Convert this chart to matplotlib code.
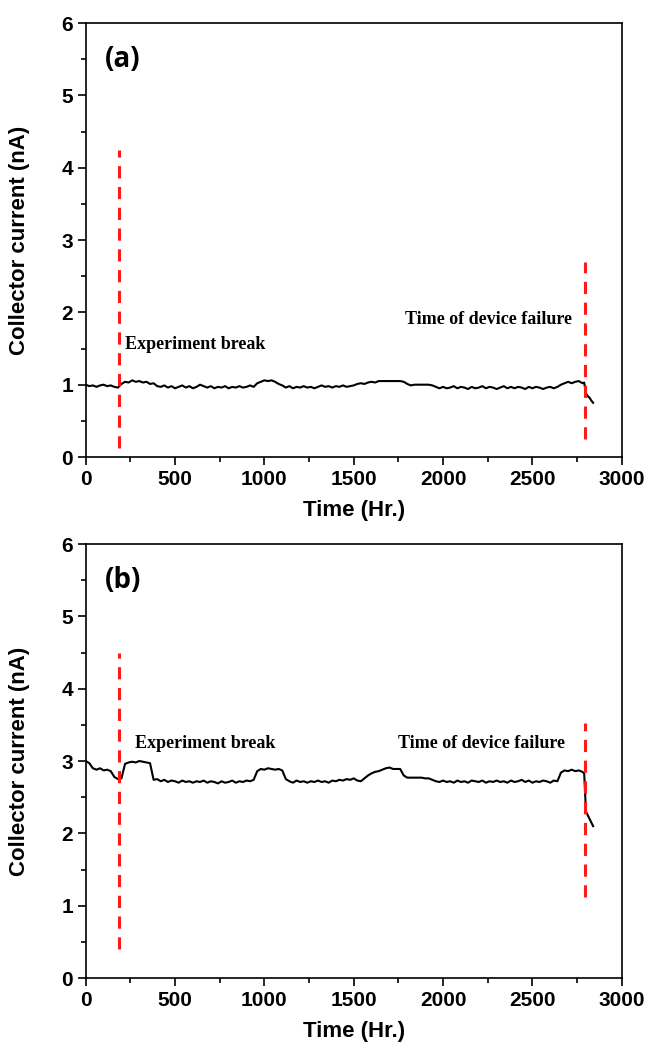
import matplotlib
matplotlib.use("Agg")
import matplotlib.pyplot as plt
from matplotlib.ticker import MultipleLocator

# sample times (hours), one reading every 20 hr plus the tail after failure
time_main = [t for t in range(0, 2800, 20)]
time_tail = [2790, 2800, 2810, 2820, 2830, 2840]

# panel (a) collector current (nA)
current_a = [
    1.00, 0.98, 0.99, 0.97, 0.99, 1.00, 0.98, 0.99, 0.97, 0.96,
    1.01, 1.04, 1.03, 1.06, 1.04, 1.05, 1.03, 1.04, 1.01, 1.02,
    0.98, 0.97, 0.99, 0.96, 0.98, 0.95, 0.97, 0.99, 0.96, 0.98,
    0.95, 0.97, 1.00, 0.98, 0.96, 0.98, 0.95, 0.97, 0.96, 0.98,
    0.95, 0.97, 0.96, 0.98, 0.96, 0.97, 0.99, 0.97, 1.02, 1.04,
    1.06, 1.05, 1.06, 1.04, 1.01, 0.99, 0.96, 0.98, 0.95, 0.97,
    0.96, 0.98, 0.96, 0.97, 0.95, 0.97, 0.99, 0.97, 0.98, 0.96,
    0.98, 0.97, 0.99, 0.97, 0.98, 0.99, 1.01, 1.02, 1.01, 1.03,
    1.04, 1.03, 1.05, 1.05, 1.05, 1.05, 1.05, 1.05, 1.05, 1.04,
    1.01, 0.99, 1.00, 1.00, 1.00, 1.00, 1.00, 0.99, 0.97, 0.95,
    0.97, 0.95, 0.96, 0.98, 0.95, 0.97, 0.96, 0.94, 0.97, 0.95,
    0.96, 0.98, 0.95, 0.97, 0.96, 0.94, 0.96, 0.98, 0.95, 0.97,
    0.95, 0.97, 0.96, 0.94, 0.97, 0.95, 0.97, 0.96, 0.94, 0.96,
    0.97, 0.95, 0.97, 1.00, 1.02, 1.04, 1.02, 1.04, 1.05, 1.02,
]
tail_a = [1.03, 0.88, 0.84, 0.82, 0.78, 0.75]

# panel (b) collector current (nA)
current_b = [
    3.00, 2.97, 2.90, 2.88, 2.90, 2.87, 2.88, 2.86, 2.78, 2.75,
    2.76, 2.96, 2.98, 2.99, 2.98, 3.00, 2.99, 2.98, 2.97, 2.74,
    2.75, 2.72, 2.74, 2.71, 2.73, 2.72, 2.70, 2.73, 2.71, 2.72,
    2.70, 2.72, 2.71, 2.73, 2.70, 2.72, 2.71, 2.69, 2.72, 2.70,
    2.71, 2.73, 2.70, 2.72, 2.71, 2.73, 2.72, 2.74, 2.86, 2.89,
    2.88, 2.90, 2.89, 2.88, 2.89, 2.87, 2.75, 2.72, 2.70, 2.73,
    2.71, 2.72, 2.70, 2.72, 2.71, 2.73, 2.71, 2.72, 2.70, 2.73,
    2.72, 2.74, 2.73, 2.75, 2.74, 2.76, 2.73, 2.72, 2.76, 2.80,
    2.83, 2.85, 2.86, 2.88, 2.90, 2.91, 2.89, 2.89, 2.89, 2.80,
    2.77, 2.77, 2.77, 2.77, 2.77, 2.76, 2.76, 2.74, 2.72, 2.71,
    2.73, 2.71, 2.72, 2.70, 2.73, 2.71, 2.72, 2.70, 2.73, 2.72,
    2.71, 2.73, 2.70, 2.72, 2.71, 2.73, 2.71, 2.72, 2.70, 2.73,
    2.71, 2.72, 2.74, 2.71, 2.73, 2.70, 2.72, 2.71, 2.73, 2.72,
    2.70, 2.73, 2.72, 2.84, 2.87, 2.86, 2.88, 2.86, 2.87, 2.85,
]
tail_b = [2.83, 2.30, 2.25, 2.20, 2.15, 2.10]

# event markers: times and vertical extents of the red dashed lines
break_time = 188
fail_time = 2795
break_span_a = [0.12, 4.25]
fail_span_a = [0.25, 2.7]
break_span_b = [0.4, 4.5]
fail_span_b = [1.12, 3.52]

panels = [
    ("(a)", current_a, tail_a, break_span_a, fail_span_a,
     (220, 1.55), (2720, 1.9), [0.1325, 0.5635, 0.8284, 0.4145]),
    ("(b)", current_b, tail_b, break_span_b, fail_span_b,
     (276, 3.24), (2683, 3.24), [0.1325, 0.0659, 0.8284, 0.4145]),
]

sans = "Liberation Sans"
serif = "Liberation Serif"

fig = plt.figure(figsize=(6.47, 10.47), dpi=100)

for tag, cur, tail, bspan, fspan, btxt, ftxt, pos in panels:
    ax = fig.add_axes(pos)
    ax.plot(time_main + time_tail, cur + tail, color="black", lw=1.5)
    ax.plot([break_time, break_time], bspan, color="#ff1a1a", lw=2.2,
            dashes=(4, 2.8))
    ax.plot([fail_time, fail_time], fspan, color="#ff1a1a", lw=2.2,
            dashes=(4, 2.8))
    ax.text(btxt[0], btxt[1], "Experiment break", family=serif,
            fontweight="bold", fontsize=13, ha="left", va="center")
    ax.text(ftxt[0], ftxt[1], "Time of device failure", family=serif,
            fontweight="bold", fontsize=13, ha="right", va="center")
    ax.text(0.036, 0.915, tag, transform=ax.transAxes, family="Open Sans",
            fontweight="bold", fontsize=20, ha="left", va="center")

    ax.set_xlim(0, 3000)
    ax.set_ylim(0, 6)
    ax.xaxis.set_major_locator(MultipleLocator(500))
    ax.xaxis.set_minor_locator(MultipleLocator(250))
    ax.yaxis.set_major_locator(MultipleLocator(1))
    ax.yaxis.set_minor_locator(MultipleLocator(0.5))
    ax.tick_params(which="both", direction="out", top=False, right=False,
                   width=1.2)
    ax.tick_params(which="major", length=6, pad=3)
    ax.tick_params(which="minor", length=3.5)
    for lab in ax.get_xticklabels() + ax.get_yticklabels():
        lab.set_family(sans)
        lab.set_fontweight("bold")
        lab.set_fontsize(15)
    for sp in ax.spines.values():
        sp.set_linewidth(1.2)

    ax.set_xlabel("Time (Hr.)", family=sans, fontweight="bold", fontsize=16)
    ax.set_ylabel("Collector current (nA)", family=sans, fontweight="bold",
                  fontsize=16)
    ax.xaxis.set_label_coords(0.5, -0.1)
    ax.yaxis.set_label_coords(-0.104, 0.5)

fig.savefig("out.png", dpi=100)
